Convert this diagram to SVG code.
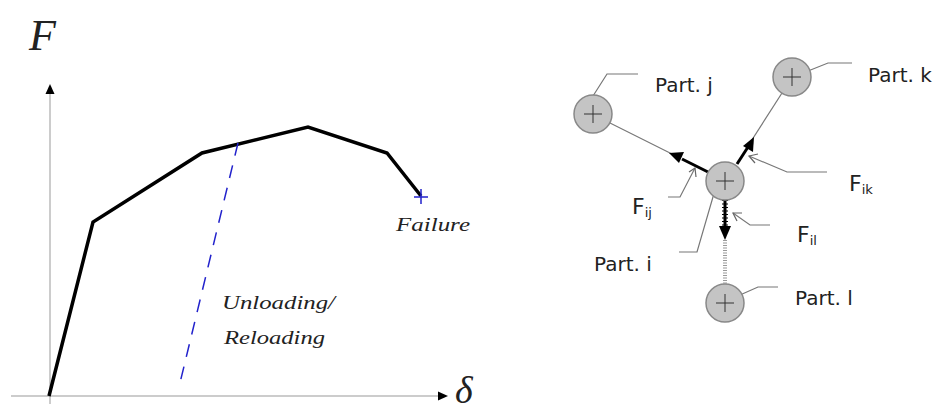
<svg xmlns="http://www.w3.org/2000/svg" width="935" height="412" viewBox="0 0 935 412">
<style>
.ax{stroke:#999;stroke-width:1;fill:none}
.cv{stroke:#000;stroke-width:3.5;fill:none;stroke-linejoin:miter}
.math{font-family:"Liberation Serif",serif;font-style:italic;fill:#222}
.pc{fill:#c4c4c4;stroke:#888;stroke-width:1.5}
.pl{stroke:#333;stroke-width:1}
.thin{stroke:#777;stroke-width:1.2;fill:none}
.lead{stroke:#777;stroke-width:1.2;fill:none}
.lah{fill:none;stroke:#666;stroke-width:1.2}
.lab{font-family:"DejaVu Sans",sans-serif;font-size:20px;fill:#222}
.fl{font-family:"DejaVu Sans",sans-serif;font-size:22px;fill:#222}
.sub{font-size:13px}
.frc{stroke:#000;stroke-width:3;fill:none}
</style>
<rect width="935" height="412" fill="#fff"/>
<g id="chart">
<line class="ax" x1="50" y1="404" x2="50" y2="92"/>
<path d="M50,84 L45.5,94 L54.5,94 z" fill="#000"/>
<line class="ax" x1="11" y1="396" x2="440" y2="396"/>
<path d="M448,396 L438,391.5 L438,400.5 z" fill="#000"/>
<text class="math" x="29" y="50" font-size="44">F</text>
<text class="math" x="455" y="403" font-size="38">δ</text>
<polyline class="cv" points="49,396 93,222 202,153 308,127 387,153 421,196"/>
<line x1="238" y1="143" x2="179" y2="387" stroke="#2222cc" stroke-width="1.5" stroke-dasharray="13,10"/>
<path d="M421,189 V204 M414,197 H428" stroke="#2222cc" stroke-width="1.5"/>
<text class="math" x="396" y="231" font-size="18" textLength="74" lengthAdjust="spacingAndGlyphs">Failure</text>
<text class="math" x="222" y="309" font-size="18" textLength="113" lengthAdjust="spacingAndGlyphs">Unloading/</text>
<text class="math" x="224" y="344" font-size="18" textLength="101" lengthAdjust="spacingAndGlyphs">Reloading</text>
</g>
<g id="connectors">
<line class="thin" x1="610" y1="123" x2="680" y2="158"/>
<line class="frc" x1="708" y1="172" x2="682" y2="159"/>
<path d="M669,153 L684,152 L679,163 z" fill="#000"/>
<line class="thin" x1="782" y1="93" x2="748" y2="146"/>
<line class="frc" x1="737" y1="164" x2="748" y2="147"/>
<path d="M754,137 L753,152 L743,146 z" fill="#000"/>
<line x1="725" y1="199" x2="725" y2="228" stroke="#000" stroke-width="3"/>
<line x1="725" y1="200" x2="725" y2="228" stroke="#000" stroke-width="6" stroke-dasharray="1,2.5"/>
<path d="M725,240 L719,226 L731,226 z" fill="#000"/>
<line x1="725" y1="240" x2="725" y2="284" stroke="#999" stroke-width="4" stroke-dasharray="1,1.5"/>
<polyline class="lead" points="593,96 607,74 638,74"/>
<polyline class="lead" points="803,73 828,63 852,63"/>
<polyline class="lead" points="827,172 787,172 749,156"/>
<path class="lah" d="M758,154 L749,156 L755,163"/>
<polyline class="lead" points="668,197 680,197 695,168"/>
<path class="lah" d="M689,172 L695,168 L696,177"/>
<polyline class="lead" points="715,190 697,252 679,252"/>
<polyline class="lead" points="770,225 750,225 733,213"/>
<path class="lah" d="M742,213 L733,213 L737,221"/>
<polyline class="lead" points="740,295 758,287 778,287"/>
</g>
<g id="part-j"><circle class="pc" cx="593" cy="114" r="19"/><path class="pl" d="M593,105 V123 M584,114 H602"/><text class="lab" x="655" y="92">Part. j</text></g>
<g id="part-k"><circle class="pc" cx="792" cy="77" r="19"/><path class="pl" d="M792,68 V86 M783,77 H801"/><text class="lab" x="868" y="82">Part. k</text></g>
<g id="part-i"><circle class="pc" cx="725" cy="181" r="19"/><path class="pl" d="M725,172 V190 M716,181 H734"/><text class="lab" x="594" y="271">Part. i</text></g>
<g id="part-l"><circle class="pc" cx="725" cy="303" r="19"/><path class="pl" d="M725,294 V312 M716,303 H734"/><text class="lab" x="795" y="305">Part. l</text></g>
<g id="f-ik"><text class="fl" x="849" y="191">F<tspan class="sub" dy="3">ik</tspan></text></g>
<g id="f-ij"><text class="fl" x="632" y="214">F<tspan class="sub" dy="3">ij</tspan></text></g>
<g id="f-il"><text class="fl" x="797" y="242">F<tspan class="sub" dy="3">il</tspan></text></g>
</svg>
